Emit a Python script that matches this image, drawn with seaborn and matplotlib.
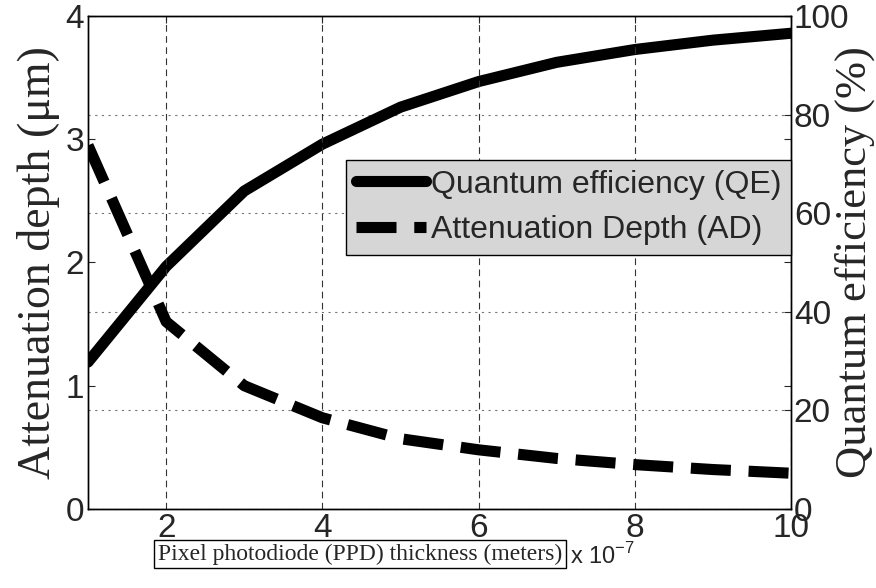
import numpy as np
import pandas as pd
import matplotlib
matplotlib.use("Agg")
import matplotlib.pyplot as plt
import seaborn as sns
from matplotlib.ticker import FuncFormatter

# thickness in units of 1e-7 m
thickness = [1, 2, 3, 4, 5, 6, 7, 8, 9, 10]
qe = [29.8, 49.2, 64.5, 74.0, 81.5, 86.7, 90.6, 93.2, 95.1, 96.5]   # %
ad = [2.95, 1.52, 1.0, 0.74, 0.57, 0.48, 0.41, 0.36, 0.32, 0.29]     # um

x_ticks = [2, 4, 6, 8, 10]
left_ticks = [0, 1, 2, 3, 4]
right_ticks = [0, 20, 40, 60, 80, 100]

sns.set_style("white")
plt.rcParams['font.family'] = ['Liberation Sans', 'DejaVu Sans']
serif = ['Liberation Serif', 'DejaVu Serif']

df = pd.DataFrame({"x": np.array(thickness) * 1e-7, "qe": qe, "ad": ad})

fig = plt.figure(figsize=(8.76, 5.88), dpi=100)
ax = fig.add_axes([0.1005, 0.1344, 0.8025, 0.8384])
ax2 = ax.twinx()

# QE on the right axis, drawn underneath
sns.lineplot(data=df, x="x", y="qe", ax=ax2, color='k', lw=8,
             label='Quantum efficiency (QE)', legend=False)
# AD on the left axis, on top
sns.lineplot(data=df, x="x", y="ad", ax=ax, color='k', lw=8,
             label='Attenuation Depth (AD)', legend=False)
ad_line = ax.get_lines()[-1]
ad_line.set_dashes((3.6, 1.6))
ad_line.set_dash_capstyle('butt')

ax.set_zorder(ax2.get_zorder() + 1)
ax.patch.set_visible(False)
ax2.patch.set_visible(True)
ax2.patch.set_facecolor('white')

ax.set_xlim(1e-7, 10e-7)
ax.set_ylim(0, 4)
ax2.set_ylim(0, 100)
ax.set_xticks([t * 1e-7 for t in x_ticks])
ax.xaxis.set_major_formatter(FuncFormatter(lambda v, p: f"{v / 1e-7:.0f}"))
ax.set_yticks(left_ticks)
ax2.set_yticks(right_ticks)

# grids: vertical dashed at x ticks, horizontal dotted at right-axis ticks
ax2.set_axisbelow(True)
ax2.grid(axis='y', color='#777777', linestyle=(0, (2, 4)), lw=0.8)
ax.set_axisbelow(True)
ax.grid(axis='x', color='#333333', linestyle=(0, (6, 4)), lw=0.8)
ax.grid(axis='y', visible=False)

ax.tick_params(direction='in', length=5, width=0.8, labelsize=24, pad=3,
               top=True, right=True)
ax2.tick_params(direction='in', length=5, width=0.8, labelsize=24, pad=2)
for a in (ax, ax2):
    for s in a.spines.values():
        s.set_color('k')
        s.set_linewidth(1.0)

ax.set_ylabel("Attenuation depth (μm)", family=serif, fontsize=33)
ax.yaxis.set_label_coords(-0.04, 0.5)
ax2.set_ylabel("Quantum efficiency (%)", family=serif, fontsize=32)
ax2.yaxis.set_label_coords(1.062, 0.5)

ax.set_xlabel("Pixel photodiode (PPD) thickness (meters)", family=serif, fontsize=17,
              bbox=dict(boxstyle='square,pad=0.15', fc='white', ec='k', lw=1))
ax.xaxis.set_label_coords(0.387, -0.07)
ax.text(0.686, -0.095, r"x 10$^{\mathregular{-7}}$", transform=ax.transAxes, fontsize=17,
        ha='left', va='center')

h1, l1 = ax2.get_legend_handles_labels()
h2, l2 = ax.get_legend_handles_labels()
leg = ax.legend(h1 + h2, l1 + l2, loc='upper right', bbox_to_anchor=(1.0, 0.708),
                fontsize=23, frameon=True, fancybox=False, facecolor='#d6d6d6',
                edgecolor='k', framealpha=1, borderpad=0.3, handlelength=2.2,
                handletextpad=0.15, labelspacing=0.5, borderaxespad=0)
leg.get_frame().set_linewidth(1.0)

fig.savefig("out.png", dpi=100)
